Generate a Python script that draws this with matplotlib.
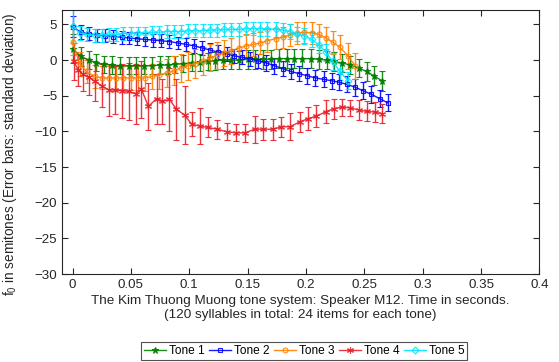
import matplotlib
matplotlib.use("Agg")
import matplotlib.pyplot as plt

plt.rcParams['font.family'] = ['Liberation Sans', 'DejaVu Sans']
plt.rcParams['mathtext.fontset'] = 'custom'
plt.rcParams['mathtext.rm'] = 'Liberation Sans'

# Tone 1
t1 = [0.000, 0.007, 0.014, 0.020, 0.027, 0.034, 0.041, 0.048, 0.054, 0.061,
      0.068, 0.075, 0.082, 0.088, 0.095, 0.102, 0.109, 0.116, 0.122, 0.129,
      0.136, 0.143, 0.150, 0.156, 0.163, 0.170, 0.177, 0.184, 0.190, 0.197,
      0.204, 0.211, 0.218, 0.224, 0.231, 0.238, 0.245, 0.252, 0.258, 0.265]
v1 = [1.6, 0.5, 0.0, -0.4, -0.6, -0.7, -0.8, -0.8, -0.8, -0.8,
      -0.8, -0.7, -0.7, -0.6, -0.5, -0.4, -0.3, -0.2, -0.1, 0.0,
      0.0, 0.0, 0.1, 0.1, 0.1, 0.1, 0.2, 0.2, 0.2, 0.2,
      0.2, 0.1, 0.0, -0.2, -0.4, -0.7, -1.1, -1.6, -2.2, -2.9]
s1 = [2.0, 1.4, 1.3, 1.2, 1.2, 1.2, 1.2, 1.2, 1.2, 1.2,
      1.2, 1.2, 1.2, 1.2, 1.2, 1.2, 1.2, 1.2, 1.3, 1.3,
      1.3, 1.3, 1.3, 1.3, 1.3, 1.3, 1.3, 1.3, 1.3, 1.3,
      1.3, 1.3, 1.3, 1.3, 1.3, 1.3, 1.3, 1.3, 1.3, 1.4]

# Tone 2
t2 = [0.000, 0.007, 0.014, 0.021, 0.028, 0.035, 0.042, 0.048, 0.055, 0.062,
      0.069, 0.076, 0.083, 0.090, 0.097, 0.104, 0.111, 0.118, 0.125, 0.132,
      0.138, 0.145, 0.152, 0.159, 0.166, 0.173, 0.180, 0.187, 0.194, 0.201,
      0.208, 0.215, 0.222, 0.228, 0.235, 0.242, 0.249, 0.256, 0.263, 0.270]
v2 = [4.7, 3.9, 3.7, 3.5, 3.4, 3.3, 3.2, 3.1, 3.0, 2.9,
      2.8, 2.7, 2.6, 2.4, 2.2, 2.0, 1.7, 1.4, 1.1, 0.9,
      0.6, 0.4, 0.2, -0.1, -0.4, -0.8, -1.2, -1.6, -1.9, -2.2,
      -2.5, -2.7, -2.9, -3.1, -3.4, -3.8, -4.3, -4.8, -5.4, -6.0]
s2 = [1.5, 1.0, 0.9, 0.9, 0.9, 0.9, 0.9, 0.9, 0.9, 0.9,
      0.9, 0.9, 0.9, 0.9, 0.9, 1.0, 1.0, 1.0, 1.0, 1.0,
      1.0, 1.0, 1.0, 1.0, 1.1, 1.1, 1.1, 1.1, 1.1, 1.1,
      1.1, 1.1, 1.1, 1.1, 1.1, 1.2, 1.2, 1.2, 1.2, 1.2]

# Tone 3
t3 = [0.000, 0.006, 0.012, 0.019, 0.025, 0.031, 0.037, 0.043, 0.050, 0.056,
      0.062, 0.068, 0.074, 0.081, 0.087, 0.093, 0.099, 0.105, 0.112, 0.118,
      0.124, 0.130, 0.136, 0.143, 0.149, 0.155, 0.161, 0.167, 0.174, 0.180,
      0.186, 0.192, 0.198, 0.205, 0.211, 0.217, 0.223, 0.229, 0.236, 0.242]
v3 = [2.5, -0.5, -1.6, -2.3, -2.5, -2.5, -2.5, -2.5, -2.5, -2.5,
      -2.5, -2.3, -2.1, -1.8, -1.5, -1.1, -0.8, -0.5, -0.1, 0.3,
      0.7, 1.0, 1.3, 1.7, 2.0, 2.2, 2.4, 2.7, 3.0, 3.2,
      3.5, 3.8, 3.9, 3.8, 3.6, 3.1, 2.5, 1.8, 0.6, -0.8]
s3 = [1.8, 1.7, 1.6, 1.6, 1.6, 1.6, 1.6, 1.6, 1.7, 1.7,
      1.8, 1.8, 1.9, 2.0, 2.0, 2.0, 2.0, 2.0, 2.0, 1.9,
      1.9, 1.8, 1.8, 1.7, 1.7, 1.6, 1.6, 1.6, 1.5, 1.5,
      1.5, 1.5, 1.5, 1.5, 1.5, 1.6, 1.6, 1.7, 1.8, 1.8]

# Tone 4
t4 = [0.001, 0.005, 0.009, 0.014, 0.019, 0.025, 0.031, 0.036, 0.042, 0.048,
      0.054, 0.059, 0.065, 0.072, 0.077, 0.083, 0.089, 0.096, 0.102, 0.109,
      0.116, 0.124, 0.132, 0.140, 0.148, 0.156, 0.163, 0.172, 0.179, 0.186,
      0.195, 0.202, 0.209, 0.217, 0.224, 0.231, 0.238, 0.245, 0.252, 0.259, 0.265]
v4 = [-0.2, -1.4, -2.0, -2.4, -3.0, -3.6, -4.2, -4.2, -4.3, -4.4,
      -4.7, -4.1, -6.5, -5.4, -5.8, -5.5, -6.9, -7.7, -9.0, -9.25,
      -9.45, -9.7, -10.05, -10.2, -10.2, -9.7, -9.7, -9.7, -9.35, -9.35,
      -8.65, -8.2, -7.85, -7.25, -6.8, -6.6, -6.7, -7.0, -7.2, -7.3, -7.5]
s4 = [2.6, 2.2, 2.3, 2.5, 2.8, 3.0, 3.6, 3.4, 3.8, 4.0,
      4.2, 4.0, 3.3, 3.5, 3.2, 4.4, 4.3, 4.0, 1.7, 2.5,
      1.4, 1.3, 1.2, 1.2, 1.3, 1.9, 1.45, 1.5, 1.4, 1.9,
      1.4, 1.6, 1.6, 1.6, 1.4, 1.2, 1.1, 1.35, 1.4, 1.4, 1.3]

# Tone 5
t5 = [0.000, 0.006, 0.012, 0.019, 0.025, 0.031, 0.037, 0.043, 0.050, 0.056,
      0.062, 0.068, 0.074, 0.081, 0.087, 0.093, 0.099, 0.105, 0.112, 0.118,
      0.124, 0.130, 0.136, 0.143, 0.149, 0.155, 0.161, 0.167, 0.174, 0.180,
      0.186, 0.192, 0.198, 0.205, 0.211, 0.217, 0.223, 0.229, 0.236]
v5 = [4.8, 3.8, 3.6, 3.5, 3.5, 3.6, 3.6, 3.7, 3.7, 3.8,
      3.8, 3.9, 3.9, 4.0, 4.0, 4.0, 4.1, 4.1, 4.1, 4.2,
      4.2, 4.3, 4.3, 4.3, 4.4, 4.4, 4.4, 4.4, 4.3, 4.2,
      4.0, 3.7, 3.4, 2.9, 2.1, 1.1, -0.2, -1.6, -2.9]
s5 = [2.4, 1.0, 0.9, 0.9, 0.9, 0.9, 0.9, 0.9, 0.9, 0.9,
      0.9, 0.9, 0.9, 0.9, 0.9, 0.9, 0.9, 0.9, 0.9, 0.9,
      0.9, 0.9, 0.9, 0.9, 0.9, 0.9, 1.0, 1.0, 1.0, 1.0,
      1.0, 1.0, 1.1, 1.1, 1.1, 1.2, 1.2, 1.2, 1.2]

names = ['Tone 1', 'Tone 2', 'Tone 3', 'Tone 4', 'Tone 5']
colors = ['#008000', '#0000ff', '#ff8000', '#e8202a', '#00e5ff']
markers = ['*', 's', 'o', (6, 2, 0), 'D']
msizes = [5, 3.5, 3.5, 5, 3.5]

fig = plt.figure(figsize=(5.59, 3.62), dpi=100)
ax = fig.add_axes([0.111, 0.243, 0.854, 0.729])

series = [(t1, v1, s1), (t2, v2, s2), (t3, v3, s3), (t4, v4, s4), (t5, v5, s5)]
for i, (t, v, s) in enumerate(series):
    filled = colors[i] if i == 0 else 'none'
    ax.errorbar(t, v, yerr=s, color=colors[i], ecolor=colors[i],
                elinewidth=1, capsize=2.5, capthick=1, lw=1,
                marker=markers[i], ms=msizes[i], mfc=filled, mec=colors[i],
                mew=0.8, label=names[i], alpha=0.9)

ax.set_xlim(-0.009, 0.4)
ax.set_ylim(-30, 7)
ax.set_xticks([0, 0.05, 0.1, 0.15, 0.2, 0.25, 0.3, 0.35, 0.4])
ax.set_xticklabels(['0', '0.05', '0.1', '0.15', '0.2', '0.25', '0.3', '0.35', '0.4'])
ax.set_yticks([-30, -25, -20, -15, -10, -5, 0, 5])
ax.tick_params(direction='in', top=True, right=True, labelsize=9.6,
               colors='#262626', length=4)
for sp in ax.spines.values():
    sp.set_color('#262626')
    sp.set_linewidth(0.8)

ax.set_xlabel('The Kim Thuong Muong tone system: Speaker M12. Time in seconds.\n'
              '(120 syllables in total: 24 items for each tone)',
              fontsize=9.7, color='#262626', labelpad=3)
ax.set_ylabel(r'f$_0$ in semitones (Error bars: standard deviation)',
              fontsize=9.8, color='#262626')
ax.yaxis.set_label_coords(-0.09, 0.455)

handles, labels = ax.get_legend_handles_labels()
handles = [h[0] for h in handles]
leg = fig.legend(handles, labels, loc='center', bbox_to_anchor=(0.544, 0.030),
                 ncol=5, fontsize=8.6, frameon=True, fancybox=False,
                 edgecolor='#262626', handlelength=1.85, handletextpad=0.25,
                 columnspacing=0.35, borderpad=0.25, borderaxespad=0)
leg.get_frame().set_linewidth(0.8)

fig.savefig('out.png', dpi=100)
